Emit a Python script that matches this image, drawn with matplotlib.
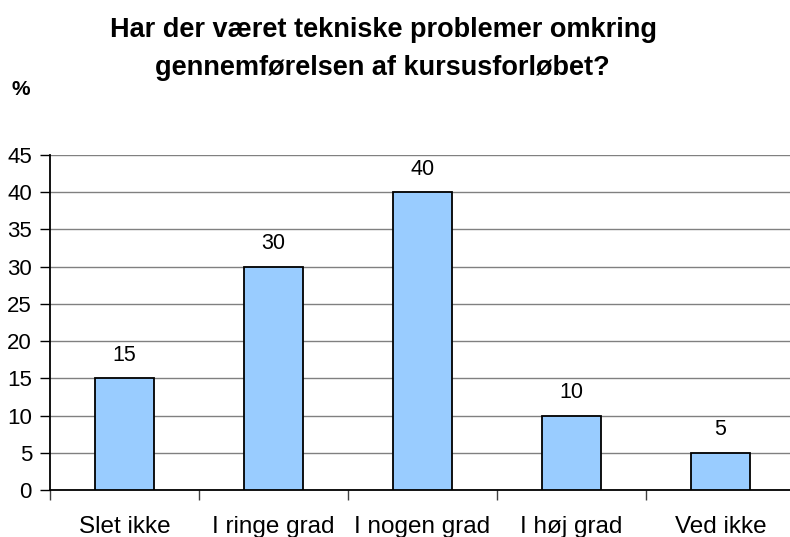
import matplotlib
matplotlib.use("Agg")
import matplotlib.pyplot as plt
from matplotlib.ticker import FixedLocator, NullFormatter

categories = ["Slet ikke", "I ringe grad", "I nogen grad", "I høj grad", "Ved ikke"]
values = [15, 30, 40, 10, 5]
yticks = [0, 5, 10, 15, 20, 25, 30, 35, 40, 45]
title_lines = ["Har der været tekniske problemer omkring",
               "gennemførelsen af kursusforløbet?"]
ylabel = "%"

plt.rcParams['font.family'] = ['Liberation Sans', 'DejaVu Sans']

W, H = 790, 537
fig = plt.figure(figsize=(W / 100, H / 100), dpi=100)
left, right, top, bottom = 50, 795, 155, 490
ax = fig.add_axes([left / W, 1 - bottom / H, (right - left) / W, (bottom - top) / H])

x = list(range(len(categories)))
ax.bar(x, values, width=0.4, color="#99CCFF", edgecolor="black", linewidth=1.3, zorder=3)
for xi, v in zip(x, values):
    ax.annotate(str(v), (xi, v), xytext=(0, 9), textcoords="offset points",
                ha="center", va="bottom", fontsize=15.5, zorder=4)

ax.set_xlim(-0.5, len(categories) - 0.5)
ax.set_ylim(0, 45)
ax.set_yticks(yticks)
ax.tick_params(axis="y", labelsize=16, length=7, width=1, direction="out", pad=6)
ax.yaxis.grid(True, color="#808080", linewidth=1, zorder=0)

ax.xaxis.set_major_locator(FixedLocator([i - 0.5 for i in range(len(categories) + 1)]))
ax.xaxis.set_major_formatter(NullFormatter())
ax.xaxis.set_minor_locator(FixedLocator(x))
ax.set_xticklabels(categories, minor=True)
ax.tick_params(axis="x", which="major", length=7, width=1, color="#404040", direction="out")
ax.tick_params(axis="x", which="minor", length=0, labelsize=17.5, pad=19)

for s in ["top", "right"]:
    ax.spines[s].set_visible(False)
ax.spines["left"].set_linewidth(1.3)
ax.spines["bottom"].set_linewidth(1.3)

fig.text(383 / W, 1 - 37 / H, title_lines[0], ha="center", va="baseline",
         fontsize=19.5, fontweight="bold")
fig.text(382 / W, 1 - 75 / H, title_lines[1], ha="center", va="baseline",
         fontsize=19.5, fontweight="bold")
fig.text(21 / W, 1 - 95 / H, ylabel, ha="center", va="baseline",
         fontsize=15, fontweight="bold")

fig.savefig("out.png", dpi=100)
